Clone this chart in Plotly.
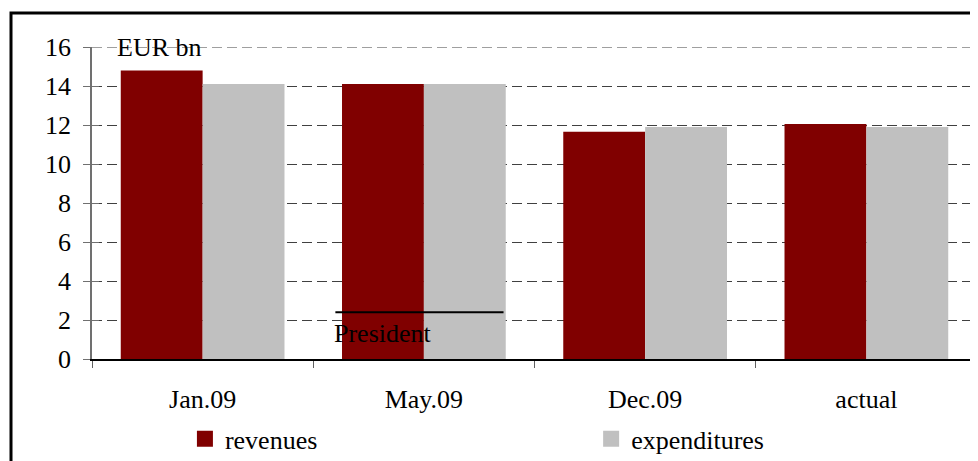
import plotly.graph_objects as go

categories = ["Jan.09", "May.09", "Dec.09", "actual"]
revenues = [14.8, 14.1, 11.65, 12.05]
expenditures = [14.1, 14.1, 11.9, 11.9]
y_ticks = [0, 2, 4, 6, 8, 10, 12, 14, 16]

RED = "#800000"
GRAY = "#C0C0C0"
GRID = "#404040"
FONT = "Liberation Serif, Times New Roman, serif"

# the page body has an 8px margin, so the figure is laid out 8px smaller
PAGE_OFF = 8
W, H = 978 - PAGE_OFF, 461 - PAGE_OFF
ML, MT = 92 - PAGE_OFF, 47 - PAGE_OFF
PW, PH = 885, 312
Y_MAX = 16

fig = go.Figure()
fig.add_trace(go.Bar(x=categories, y=revenues, name="revenues",
                     marker=dict(color=RED, line=dict(width=0)), showlegend=False))
fig.add_trace(go.Bar(x=categories, y=expenditures, name="expenditures",
                     marker=dict(color=GRAY, line=dict(width=0)), showlegend=False))
# legend entries with square symbols, one legend each
fig.add_trace(go.Scatter(x=[None], y=[None], mode="markers", name="revenues",
                         marker=dict(symbol="square", size=17, color=RED), legend="legend"))
fig.add_trace(go.Scatter(x=[None], y=[None], mode="markers", name="expenditures",
                         marker=dict(symbol="square", size=17, color=GRAY), legend="legend2"))

legend_style = dict(xanchor="left", yanchor="middle", font=dict(family=FONT, size=26),
                    bgcolor="rgba(0,0,0,0)", itemwidth=30, borderwidth=0)

fig.update_layout(
    width=W, height=H,
    margin=dict(l=ML, r=W - ML - PW, t=MT, b=H - MT - PH, autoexpand=False),
    paper_bgcolor="white", plot_bgcolor="white",
    font=dict(family=FONT, size=26, color="black"),
    barmode="group", bargap=0.26, bargroupgap=0,
    showlegend=True,
    legend=dict(x=0.105, y=-0.256, **legend_style),
    legend2=dict(x=0.564, y=-0.256, **legend_style),
    xaxis=dict(type="category", showline=True, linecolor="black", linewidth=1.5,
               ticks="outside", tickson="boundaries", ticklen=7, tickcolor="#606060",
               showgrid=False, ticklabelstandoff=16,
               tickfont=dict(family=FONT, size=26)),
    yaxis=dict(range=[0, Y_MAX], tickvals=y_ticks, showline=True, linecolor="#707070",
               linewidth=1.5, ticks="outside", ticklen=7, tickcolor="#707070",
               showgrid=True, gridcolor=GRID, gridwidth=1, griddash="10px,5px",
               zeroline=False, ticklabelstandoff=7,
               tickfont=dict(family=FONT, size=26)),
    yaxis2=dict(range=[0, Y_MAX], tickvals=y_ticks, overlaying="y", side="left",
                ticks="inside", ticklen=7, tickcolor="#707070", showticklabels=False,
                showgrid=False, showline=False, zeroline=False),
)

# invisible trace to activate yaxis2
fig.add_trace(go.Scatter(x=[None], y=[None], yaxis="y2", showlegend=False, hoverinfo="skip"))

# top gridline (plotly omits the one on the plot edge)
fig.add_shape(type="line", xref="paper", yref="y", x0=0, x1=1, y0=Y_MAX, y1=Y_MAX,
              line=dict(color=GRID, width=1, dash="10px,5px"), layer="below")

# "President" line and label
PRES_X0, PRES_X1, PRES_Y = 0.6, 1.36, 2.4
fig.add_shape(type="line", xref="x", yref="y", x0=PRES_X0, x1=PRES_X1, y0=PRES_Y, y1=PRES_Y,
              line=dict(color="black", width=2), layer="above")
fig.add_annotation(text="President", xref="x", yref="y", x=0.584, y=1.33,
                   xanchor="left", yanchor="middle", showarrow=False,
                   font=dict(family=FONT, size=26, color="black"))
fig.add_annotation(text="EUR bn", xref="x", yref="y", x=-0.396, y=16,
                   xanchor="left", yanchor="middle", showarrow=False,
                   font=dict(family=FONT, size=26, color="black"))

# outer frame
fig.add_shape(type="rect", xref="paper", yref="paper",
              x0=(11 - 92) / PW, x1=1.05, y0=-0.6, y1=1 + (47 - 13) / PH,
              line=dict(color="black", width=3), fillcolor="rgba(0,0,0,0)", layer="below")

fig.write_html("out.html")
